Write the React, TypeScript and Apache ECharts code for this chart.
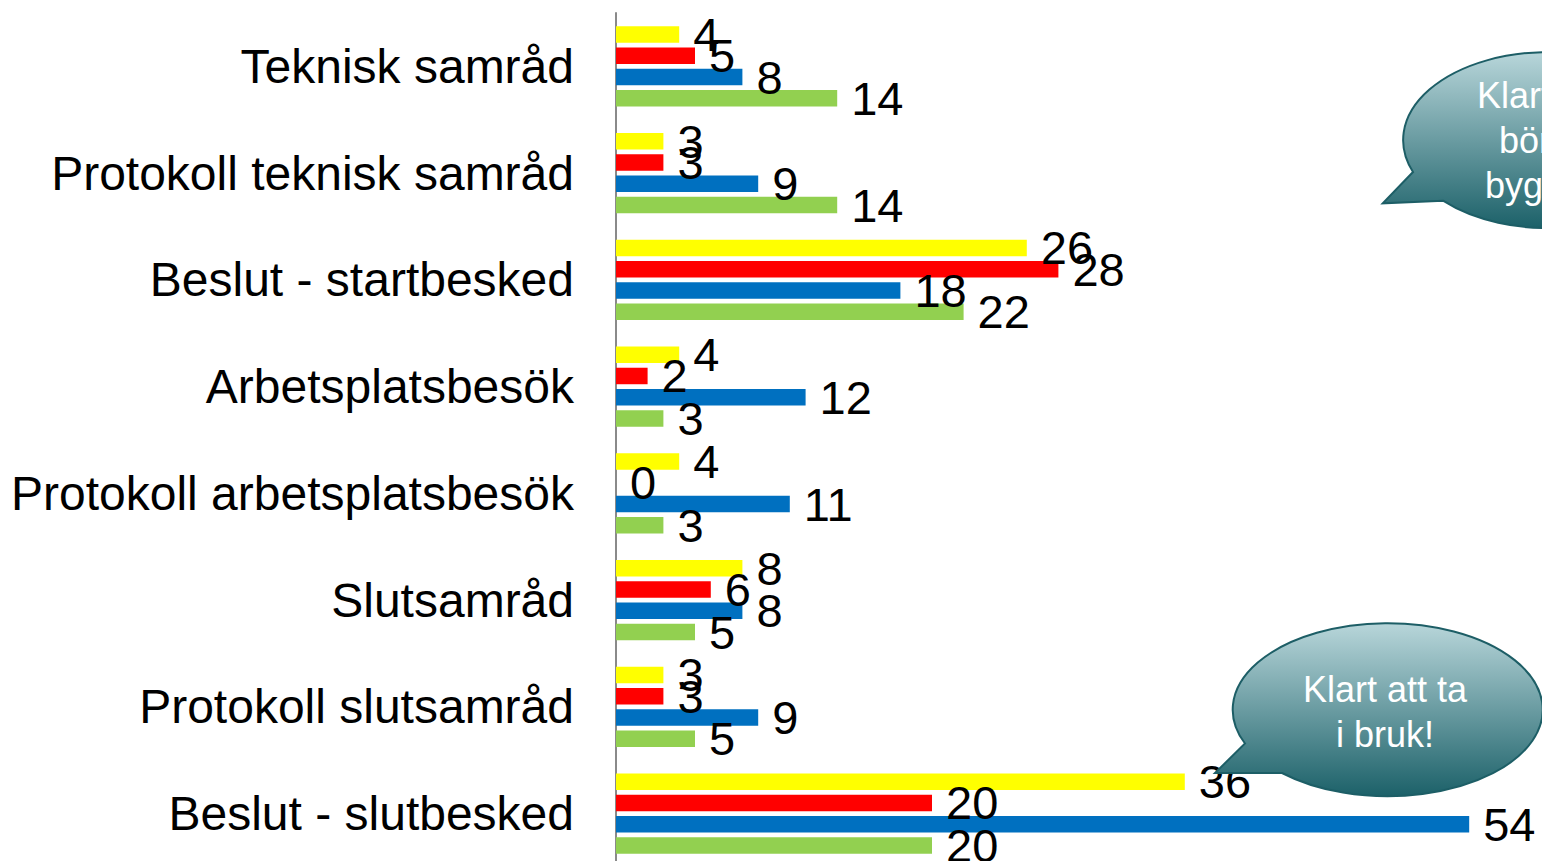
import React, { useEffect, useRef } from "react";
import * as echarts from "echarts";

const categories = [
  "Teknisk samråd",
  "Protokoll teknisk samråd",
  "Beslut - startbesked",
  "Arbetsplatsbesök",
  "Protokoll arbetsplatsbesök",
  "Slutsamråd",
  "Protokoll slutsamråd",
  "Beslut - slutbesked",
];
const yellowValues = [4, 3, 26, 4, 4, 8, 3, 36];
const redValues = [5, 3, 28, 2, 0, 6, 3, 20];
const blueValues = [8, 9, 18, 12, 11, 8, 9, 54];
const greenValues = [14, 14, 22, 3, 3, 5, 5, 20];
const seriesNames = ["Serie 1", "Serie 2", "Serie 3", "Serie 4"];
const seriesColors = ["#FFFF00", "#FF0000", "#0070C0", "#92D050"];
const bubbleTexts = ["Klart att\nbörja\nbygga!", "Klart att ta\ni bruk!"];

const BUBBLE1 = "M 1413 172 A 145 88 0 1 1 1443 200.7 L 1382.7 203.3 Z";
const BUBBLE2 = "M 1245 743.5 A 155 86.5 0 1 1 1282 773 L 1215 773 Z";

let registered = false;
function registerShapes() {
  if (registered) return;
  registered = true;
  echarts.graphic.registerShape("bubbleA", echarts.graphic.extendPath(BUBBLE1, {}) as any);
  echarts.graphic.registerShape("bubbleB", echarts.graphic.extendPath(BUBBLE2, {}) as any);
}

const bubbleFill = {
  type: "linear",
  x: 0,
  y: 0,
  x2: 0,
  y2: 1,
  colorStops: [
    { offset: 0, color: "#b8d6da" },
    { offset: 1, color: "#1c6169" },
  ],
};

export default function App() {
  const ref = useRef<HTMLDivElement>(null);
  useEffect(() => {
    if (!ref.current) return;
    registerShapes();
    const chart = echarts.init(ref.current, undefined, { renderer: "svg" });
    const allValues = [yellowValues, redValues, blueValues, greenValues];
    const font = "Arial, 'Liberation Sans', sans-serif";
    chart.setOption({
      animation: false,
      backgroundColor: "#ffffff",
      grid: {
        left: 616,
        top: 13,
        width: 948,
        height: 854,
        outerBoundsMode: "none",
        containLabel: false,
      },
      xAxis: {
        type: "value",
        min: 0,
        max: 60,
        show: false,
        splitLine: { show: false },
      },
      yAxis: {
        type: "category",
        data: categories,
        inverse: true,
        axisLine: { show: true, lineStyle: { color: "#8a8a8a", width: 2 } },
        axisTick: { show: false },
        axisLabel: {
          margin: 42,
          fontSize: 48,
          color: "#000000",
          fontFamily: font,
        },
        splitLine: { show: false },
      },
      series: allValues.map((vals, i) => ({
        name: seriesNames[i],
        type: "bar",
        data: vals,
        barWidth: 16.5,
        barGap: "29%",
        itemStyle: { color: seriesColors[i] },
        label: {
          show: true,
          position: "right",
          distance: 14,
          fontSize: 47,
          color: "#000000",
          fontFamily: font,
          formatter: "{c}",
        },
      })),
      graphic: [
        {
          type: "bubbleA",
          z: 100,
          style: { fill: bubbleFill, stroke: "#1d5e66", lineWidth: 2 },
        },
        {
          type: "text",
          z: 101,
          x: 1539,
          y: 140,
          style: {
            text: bubbleTexts[0],
            fill: "#ffffff",
            fontSize: 36,
            fontFamily: font,
            lineHeight: 45,
            align: "center",
            verticalAlign: "middle",
          },
        },
        {
          type: "bubbleB",
          z: 100,
          style: { fill: bubbleFill, stroke: "#1d5e66", lineWidth: 2 },
        },
        {
          type: "text",
          z: 101,
          x: 1385,
          y: 712,
          style: {
            text: bubbleTexts[1],
            fill: "#ffffff",
            fontSize: 36,
            fontFamily: font,
            lineHeight: 45,
            align: "center",
            verticalAlign: "middle",
          },
        },
      ],
    });
    return () => chart.dispose();
  }, []);
  return (
    <div
      ref={ref}
      style={{ position: "fixed", left: 0, top: 0, width: 1542, height: 861 }}
    />
  );
}
